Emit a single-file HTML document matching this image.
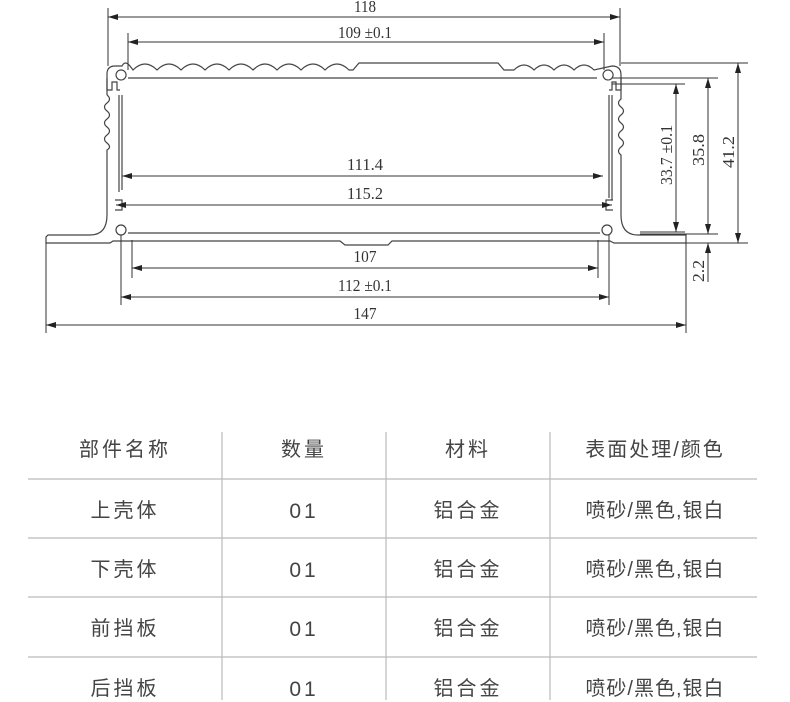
<!DOCTYPE html>
<html><head><meta charset="utf-8"><style>
html,body{margin:0;padding:0;background:#fff;}
body{width:790px;height:700px;overflow:hidden;position:relative;}
svg{position:absolute;left:0;top:0;}
.dt{font-family:"Liberation Serif",serif;font-size:17px;fill:#333;}
.tb{position:absolute;font-family:"Liberation Sans","Noto Sans CJK SC",sans-serif;font-size:20px;color:#444;letter-spacing:3px;text-align:center;}
.n{font-size:21px;margin-top:6px;}
</style></head><body>
<svg width="790" height="700" viewBox="0 0 790 700">
<defs>
<marker id="a" viewBox="0 0 10 6" refX="10" refY="3" markerWidth="12" markerHeight="6" orient="auto-start-reverse" markerUnits="userSpaceOnUse"><path d="M0,0 L10,3 L0,6 z" fill="#222"/></marker>
</defs>
<g stroke="#444" stroke-width="1.2" fill="none">
<path d="M107,95 L107,74 Q107,66 115,66 L122,66 q3,-6 8,0 l3,4 q12,-12 24,0 q12,-12 24,0 q12,-12 24,0 q12,-12 24,0 q12,-12 24,0 q12,-12 24,0 q12,-12 24,0 q12,-12 24,0 q12,-12 24,0 l4,0 l6,-7 L498,63 l6,7 l10,0 q10,-10 20,0 q10,-10 20,0 q10,-10 20,0 q10,-10 20,0 L612,66 Q621,66 621,75 L621,95"/>
<line x1="128" y1="78" x2="597" y2="78"/>
<path d="M107,78 L107,90 L112,90 L112,82 L117,82 L117,90 L120,90 M121,80 a5,5 0 1 1 0.1,0 M608,80 a5,5 0 1 1 0.1,0 M621,78 L621,90 L616,90 L616,82 L612,82 L612,90 L609,90"/>
<path d="M107,95 q5,4 0,8 q-5,4 0,8 q5,4 0,8 q-5,4 0,8 q5,4 0,8 q-5,4 0,8 q5,4 0,7 L107,215 Q107,235 90,235 L48,235 L46,237 L46,243 L110,243 L113,241 L340,241 L345,245 L388,245 L392,241 L610,241 L614,243 L686,243 L686,235 L638,235 Q621,235 621,215 L621,155 q-5,-4 0,-8 q5,-4 0,-8 q-5,-4 0,-8 q5,-4 0,-8 q-5,-4 0,-8 q5,-4 0,-8 q-5,-4 0,-8 L621,95"/>
<line x1="119" y1="95" x2="119" y2="192"/>
<line x1="122" y1="95" x2="122" y2="190"/>
<line x1="609" y1="95" x2="609" y2="198"/>
<line x1="612" y1="95" x2="612" y2="200"/>
<path d="M115,200 L122,200 L122,210 L115,210 M613,200 L606,200 L606,210 L613,210"/>
<circle cx="121" cy="230" r="5"/><circle cx="607" cy="230" r="5"/>
<line x1="128" y1="233" x2="600" y2="233"/>
</g>
<g stroke="#333" stroke-width="1" fill="none">
<line x1="108" y1="8" x2="108" y2="66"/><line x1="620" y1="8" x2="620" y2="66"/>
<line x1="128" y1="33" x2="128" y2="70"/><line x1="604" y1="33" x2="604" y2="70"/>
<line x1="108" y1="17" x2="620" y2="17" marker-start="url(#a)" marker-end="url(#a)"/>
<line x1="128" y1="42" x2="604" y2="42" marker-start="url(#a)" marker-end="url(#a)"/>
<line x1="122" y1="176" x2="603" y2="176" marker-start="url(#a)" marker-end="url(#a)"/>
<line x1="116" y1="205" x2="612" y2="205" marker-start="url(#a)" marker-end="url(#a)"/>
<line x1="132" y1="240" x2="132" y2="278"/><line x1="598" y1="240" x2="598" y2="278"/>
<line x1="121" y1="235" x2="121" y2="305"/><line x1="609" y1="235" x2="609" y2="305"/>
<line x1="46" y1="243" x2="46" y2="333"/><line x1="686" y1="243" x2="686" y2="333"/>
<line x1="132" y1="268" x2="598" y2="268" marker-start="url(#a)" marker-end="url(#a)"/>
<line x1="121" y1="297" x2="609" y2="297" marker-start="url(#a)" marker-end="url(#a)"/>
<line x1="46" y1="325" x2="686" y2="325" marker-start="url(#a)" marker-end="url(#a)"/>
<line x1="621" y1="63" x2="748" y2="63"/><line x1="612" y1="78" x2="718" y2="78"/>
<line x1="612" y1="84" x2="685" y2="84"/><line x1="640" y1="232" x2="685" y2="232"/>
<line x1="640" y1="234" x2="718" y2="234"/><line x1="686" y1="243" x2="748" y2="243"/>
<line x1="738" y1="63" x2="738" y2="243" marker-start="url(#a)" marker-end="url(#a)"/>
<line x1="708" y1="78" x2="708" y2="234" marker-start="url(#a)" marker-end="url(#a)"/>
<line x1="676" y1="84" x2="676" y2="232" marker-start="url(#a)" marker-end="url(#a)"/>
<line x1="708" y1="282" x2="708" y2="243" marker-end="url(#a)"/>
</g>
<g class="dt" text-anchor="middle">
<text x="365" y="12" textLength="22" lengthAdjust="spacingAndGlyphs">118</text>
<text x="365" y="38" textLength="54" lengthAdjust="spacingAndGlyphs">109 ±0.1</text>
<text x="365" y="170" textLength="36" lengthAdjust="spacingAndGlyphs">111.4</text>
<text x="365" y="199" textLength="36" lengthAdjust="spacingAndGlyphs">115.2</text>
<text x="365" y="262" textLength="23" lengthAdjust="spacingAndGlyphs">107</text>
<text x="365" y="291" textLength="54" lengthAdjust="spacingAndGlyphs">112 ±0.1</text>
<text x="365" y="319" textLength="23" lengthAdjust="spacingAndGlyphs">147</text>
<text transform="translate(672,155) rotate(-90)" textLength="60" lengthAdjust="spacingAndGlyphs">33.7 ±0.1</text>
<text transform="translate(704,150) rotate(-90)" textLength="32" lengthAdjust="spacingAndGlyphs">35.8</text>
<text transform="translate(734,152) rotate(-90)" textLength="32" lengthAdjust="spacingAndGlyphs">41.2</text>
<text transform="translate(704,271) rotate(-90)" textLength="22" lengthAdjust="spacingAndGlyphs">2.2</text>
</g>
<g stroke="#bbb" stroke-width="1.2">
<line x1="222" y1="432" x2="222" y2="700"/>
<line x1="386" y1="432" x2="386" y2="700"/>
<line x1="550" y1="432" x2="550" y2="700"/>
<line x1="28" y1="479" x2="757" y2="479"/>
<line x1="28" y1="538" x2="757" y2="538"/>
<line x1="28" y1="597" x2="757" y2="597"/>
<line x1="28" y1="657" x2="757" y2="657"/>
</g>
</svg>
<div class="tb" style="left:28px;width:194px;top:433px">部件名称</div>
<div class="tb" style="left:222px;width:164px;top:433px">数量</div>
<div class="tb" style="left:386px;width:164px;top:433px">材料</div>
<div class="tb" style="left:550px;width:210px;top:433px;letter-spacing:2px">表面处理/颜色</div>
<div class="tb" style="left:28px;width:194px;top:494px">上壳体</div>
<div class="tb n" style="left:222px;width:164px;top:494px">01</div>
<div class="tb" style="left:386px;width:164px;top:494px">铝合金</div>
<div class="tb" style="left:550px;width:210px;top:494px;letter-spacing:1px">喷砂/黑色,银白</div>
<div class="tb" style="left:28px;width:194px;top:553px">下壳体</div>
<div class="tb n" style="left:222px;width:164px;top:553px">01</div>
<div class="tb" style="left:386px;width:164px;top:553px">铝合金</div>
<div class="tb" style="left:550px;width:210px;top:553px;letter-spacing:1px">喷砂/黑色,银白</div>
<div class="tb" style="left:28px;width:194px;top:612px">前挡板</div>
<div class="tb n" style="left:222px;width:164px;top:612px">01</div>
<div class="tb" style="left:386px;width:164px;top:612px">铝合金</div>
<div class="tb" style="left:550px;width:210px;top:612px;letter-spacing:1px">喷砂/黑色,银白</div>
<div class="tb" style="left:28px;width:194px;top:672px">后挡板</div>
<div class="tb n" style="left:222px;width:164px;top:672px">01</div>
<div class="tb" style="left:386px;width:164px;top:672px">铝合金</div>
<div class="tb" style="left:550px;width:210px;top:672px;letter-spacing:1px">喷砂/黑色,银白</div>
</body></html>
